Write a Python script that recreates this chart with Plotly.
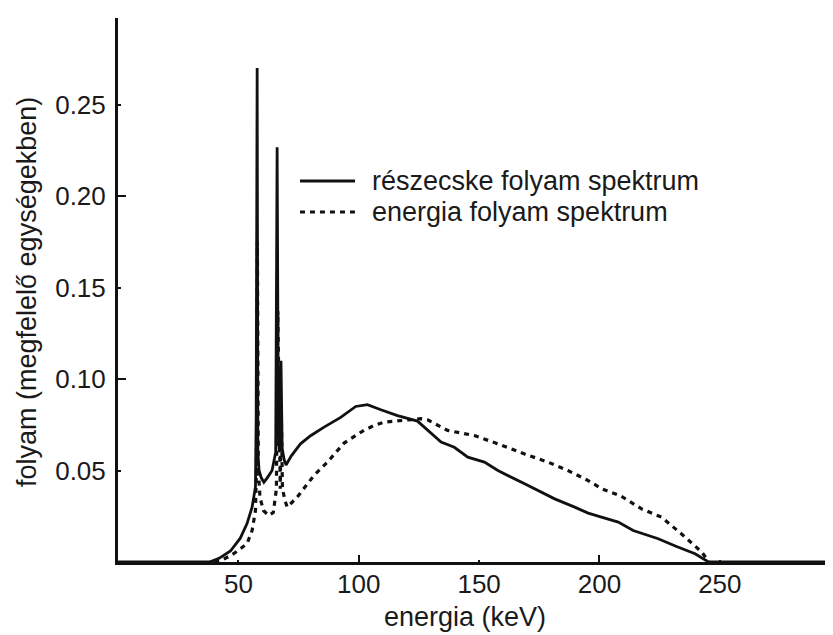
import plotly.graph_objects as go

# részecske folyam spektrum (solid)
particle_x = [0, 30, 38, 42, 46.7, 50.8, 53.6, 55.7, 57.1, 57.4, 57.6, 57.8, 58.1, 58.6, 59.5, 60.6,
              62, 64, 65.5, 66.1, 66.6, 67.0, 67.3, 67.7, 68.2, 69.0, 69.8, 72, 75.8, 80, 85.6, 92.5,
              98.75, 103.6, 109.2, 116.1, 124.4, 128.6, 134.2, 139.7, 145.3, 152.2, 157.8, 168.9,
              181.4, 189.7, 195.3, 200.8, 207.8, 214, 224.4, 232, 239.7, 245.3, 297]
particle_y = [0, 0, 0, 0.002, 0.006, 0.013, 0.021, 0.030, 0.041, 0.080, 0.216, 0.270, 0.060, 0.050,
              0.046, 0.0436, 0.046, 0.050, 0.060, 0.2267, 0.070, 0.060, 0.062, 0.110, 0.062, 0.056,
              0.053, 0.058, 0.0646, 0.069, 0.0737, 0.079, 0.085, 0.086, 0.0832, 0.080, 0.077, 0.0719,
              0.0655, 0.0627, 0.0573, 0.0546, 0.050, 0.0427, 0.0345, 0.030, 0.0267, 0.0245, 0.0218,
              0.0172, 0.0127, 0.0085, 0.0045, 0, 0]

# energia folyam spektrum (dotted)
energy_x = [40, 43.2, 48, 53.6, 55.7, 57.1, 57.5, 57.9, 58.3, 59, 60.5, 62.6, 64.5, 65.8, 66.4, 67,
            67.4, 67.8, 68.3, 69.5, 70.3, 74.4, 81.4, 87, 93.9, 102.2, 106.4, 110.5, 116.1, 125.8, 128.6,
            136.9, 148, 157.8, 168.9, 178.6, 186.9, 195.3, 201, 209, 217.5, 225.8, 234, 242.5, 245.5]
energy_y = [0, 0.001, 0.0045, 0.010, 0.0172, 0.028, 0.050, 0.175, 0.050, 0.035, 0.028, 0.0254, 0.027,
            0.040, 0.137, 0.050, 0.040, 0.085, 0.040, 0.033, 0.030, 0.0354, 0.0473, 0.0546, 0.065, 0.072,
            0.0746, 0.0764, 0.077, 0.0783, 0.0777, 0.0719, 0.0691, 0.0646, 0.059, 0.0546, 0.050,
            0.0445, 0.040, 0.036, 0.029, 0.0245, 0.0154, 0.0054, 0]

series_names = ["részecske folyam spektrum", "energia folyam spektrum"]
x_tick_vals = [50, 100, 150, 200, 250]
x_major_vals = [100, 200]
y_tick_vals = [0.05, 0.10, 0.15, 0.20, 0.25]
y_tick_text = ["0.05", "0.10", "0.15", "0.20", "0.25"]
y_major_vals = [0.10, 0.20]
x_title = "energia (keV)"
y_title = "folyam (megfelelő egységekben)"

FONT = "Liberation Sans, Arial, Helvetica, sans-serif"
INK = "#1a1a1a"
X_RANGE = [0, 297]
Y_RANGE = [0, 0.2973]

fig = go.Figure()
fig.add_trace(go.Scatter(x=particle_x, y=particle_y, mode="lines", name=series_names[0],
                         line=dict(color="#111111", width=2.8), showlegend=False))
fig.add_trace(go.Scatter(x=energy_x, y=energy_y, mode="lines", name=series_names[1],
                         line=dict(color="#111111", width=3.2, dash="5px,5px"), showlegend=False))

# manual legend (line samples + labels)
legend_rows = [(0.7004, "solid"), (0.6434, "5px,5px")]
for (ly, dash), name in zip(legend_rows, series_names):
    fig.add_shape(type="line", xref="paper", yref="paper", x0=0.2545, x1=0.3315, y0=ly, y1=ly,
                  line=dict(color="#111111", width=3.2, dash=dash))
    fig.add_annotation(xref="paper", yref="paper", x=0.3524, y=ly, text=name, showarrow=False,
                       xanchor="left", yanchor="middle", font=dict(family=FONT, size=27, color=INK))

# axis titles
fig.add_annotation(xref="paper", yref="paper", x=0.485, y=-0.102, text=x_title, showarrow=False,
                   xanchor="center", yanchor="middle", font=dict(family=FONT, size=27, color=INK))
fig.add_annotation(xref="paper", yref="paper", x=-0.1273, y=0.4963, text=y_title, showarrow=False,
                   textangle=-90, xanchor="center", yanchor="middle",
                   font=dict(family=FONT, size=27, color=INK))

fig.update_layout(
    width=833, height=635,
    margin=dict(l=110, r=8, t=10, b=81),
    paper_bgcolor="white", plot_bgcolor="white",
    font=dict(family=FONT, size=26, color=INK),
    xaxis=dict(range=X_RANGE, tickvals=x_tick_vals, ticks="inside", ticklen=2, tickwidth=2,
               tickcolor="#111111", showline=True, linecolor="#111111", linewidth=3,
               showgrid=False, zeroline=False, ticklabelstandoff=-3, automargin=False),
    yaxis=dict(range=Y_RANGE, tickvals=y_tick_vals, ticktext=y_tick_text, ticks="inside",
               ticklen=3, tickwidth=2, tickcolor="#111111", showline=True, linecolor="#111111",
               linewidth=3, showgrid=False, zeroline=False, ticklabelstandoff=4, automargin=False),
    xaxis2=dict(range=X_RANGE, overlaying="x", side="bottom", tickvals=x_major_vals,
                ticks="inside", ticklen=7, tickwidth=2, tickcolor="#111111",
                showticklabels=False, showgrid=False, zeroline=False, showline=False,
                automargin=False),
    yaxis2=dict(range=Y_RANGE, overlaying="y", side="left", tickvals=y_major_vals,
                ticks="inside", ticklen=8, tickwidth=2, tickcolor="#111111",
                showticklabels=False, showgrid=False, zeroline=False, showline=False,
                automargin=False),
)
# invisible trace to activate secondary axes
fig.add_trace(go.Scatter(x=[None], y=[None], xaxis="x2", yaxis="y2", showlegend=False,
                         hoverinfo="skip"))

fig.write_html("out.html")
